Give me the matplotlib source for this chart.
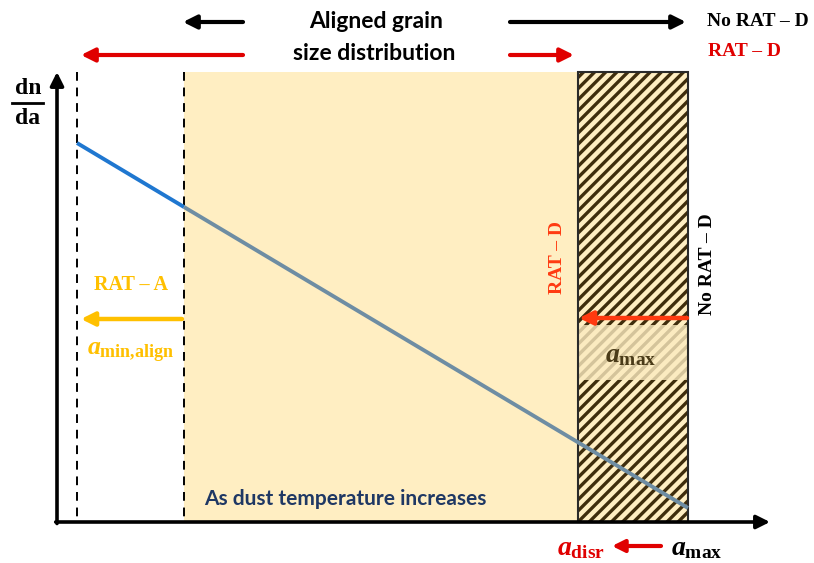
import matplotlib.pyplot as plt
from matplotlib.patches import Rectangle

plt.rcParams['mathtext.fontset'] = 'custom'
plt.rcParams['mathtext.it'] = 'Liberation Serif:italic:bold'
plt.rcParams['mathtext.rm'] = 'Liberation Serif:bold'
plt.rcParams['mathtext.bf'] = 'Liberation Serif:bold'
plt.rcParams['hatch.linewidth'] = 2.4

# grain-size markers along the x axis (diagram units)
size_marks = ['a_min_align', 'a_align', 'a_disr', 'a_max']
size_pos = [77, 184, 578, 688]

# size distribution dn/da (schematic power law, drawn linear)
dist_size = [77, 184, 688]
dist_dnda = [143, 207, 508]

# where disruption caps a_max
amax_band = [325, 380]
disr_arrow_y = 318
align_arrow_y = 319

axis_top = 72
axis_bottom = 522

sans = 'Lato'
serif = 'Liberation Serif'
yellow = '#FFEEC2'
brown = '#3F2D0C'
red = '#E00000'
red2 = '#FF3A10'
orange = '#FFC000'
navy = '#1F3864'

fig = plt.figure(figsize=(8.14, 5.63), dpi=100)
ax = fig.add_axes([0, 0, 1, 1])
ax.set_xlim(0, 814)
ax.set_ylim(563, 0)
ax.axis('off')

a_min_align, a_align, a_disr, a_max = size_pos

# aligned region
ax.add_patch(Rectangle((a_align, axis_top), a_disr - a_align, axis_bottom - axis_top,
                       facecolor=yellow, edgecolor='none', zorder=1))
# disrupted region (hatched)
ax.add_patch(Rectangle((a_disr, axis_top), a_max - a_disr, axis_bottom - axis_top,
                       facecolor=yellow, edgecolor=brown, linewidth=0, hatch='///', zorder=1))
ax.add_patch(Rectangle((a_disr, axis_top), a_max - a_disr, axis_bottom - axis_top,
                       facecolor='none', edgecolor='#2a2a2a', linewidth=1.5, zorder=3))
ax.add_patch(Rectangle((a_disr + 1, amax_band[0]), a_max - a_disr - 2, amax_band[1] - amax_band[0],
                       facecolor='#FBEBC0', edgecolor='none', alpha=0.8, zorder=2))
ax.text((a_disr + a_max) / 2 - 2, 354, r'$a_{\mathrm{max}}$', color='#4A3B18', fontsize=20,
        ha='center', va='center', zorder=4)

# dashed size limits
for xpos in [a_min_align, a_align]:
    ax.plot([xpos, xpos], [axis_top, axis_bottom], color='black', lw=1.4,
            dashes=(4.5, 3.5), zorder=2)

# axes with arrow heads
arrow = dict(arrowstyle='-|>', lw=2.6, color='black', mutation_scale=20, shrinkA=0, shrinkB=0)
ax.annotate('', xy=(57, 72), xytext=(57, axis_bottom + 1.5), arrowprops=arrow, zorder=5)
ax.annotate('', xy=(770, axis_bottom), xytext=(55.7, axis_bottom), arrowprops=arrow, zorder=5)

# size distribution
ax.plot(dist_size[:2], dist_dnda[:2], color='#1F77D0', lw=2.8, solid_capstyle='butt', zorder=4)
ax.plot(dist_size[1:], dist_dnda[1:], color='#6E8DA3', lw=2.8, solid_capstyle='butt', zorder=4)

# y label dn/da
ax.text(28, 89, 'dn', fontsize=17, family=serif, weight='bold', ha='center', va='center')
ax.plot([12, 43], [103, 103], color='black', lw=2)
ax.text(28, 119, 'da', fontsize=17, family=serif, weight='bold', ha='center', va='center')


def arr(tail, tip, color, lw=3.0, ms=20):
    ax.annotate('', xy=tip, xytext=tail, zorder=6,
                arrowprops=dict(arrowstyle='-|>', lw=lw, color=color, mutation_scale=ms,
                                shrinkA=0, shrinkB=0))


# header
ax.text(376, 22, 'Aligned grain', fontsize=16.5, family=sans, weight='bold', ha='center', va='center')
ax.text(374, 53, 'size distribution', fontsize=16.5, family=sans, weight='bold', ha='center', va='center')
arr((243, 22), (183, 22), 'black')
arr((510, 22), (686, 22), 'black')
arr((243, 55), (81, 55), red)
arr((510, 55), (574, 55), red)
ax.text(707, 22, 'No RAT \u2013 D', fontsize=14, family=serif, weight='bold', ha='left', va='center')
ax.text(708, 51, 'RAT \u2013 D', fontsize=14, family=serif, weight='bold', color=red,
        ha='left', va='center')

# disruption labels
ax.text(557, 257, 'RAT \u2013 D', fontsize=14, family=serif, weight='bold', color=red2,
        rotation=90, ha='center', va='center')
ax.text(708, 264, 'No RAT \u2013 D', fontsize=14, family=serif, weight='bold',
        rotation=90, ha='center', va='center')
arr((a_max - 1, disr_arrow_y), (a_disr + 1, disr_arrow_y), red2, lw=3.2)

# alignment labels
ax.text(131, 285, 'RAT \u2013 A', fontsize=14.5, family=serif, weight='bold', color=orange,
        ha='center', va='center')
arr((a_align - 2, align_arrow_y), (a_min_align + 4, align_arrow_y), orange, lw=3.2)
ax.text(131, 352, r'$a_{\mathrm{min{,}align}}$', fontsize=18.5, color=orange, ha='center', va='center')

ax.text(204, 499, 'As dust temperature increases', fontsize=15, family=sans, weight='bold',
        color=navy, ha='left', va='center')

# bottom size labels
ax.text(581, 547, r'$a_{\mathrm{disr}}$', fontsize=20, color=red, ha='center', va='center')
arr((661, 546), (612, 546), red, lw=3.0, ms=18)
ax.text(697, 547, r'$a_{\mathrm{max}}$', fontsize=20, color='black', ha='center', va='center')

fig.savefig('out.png', dpi=100)
